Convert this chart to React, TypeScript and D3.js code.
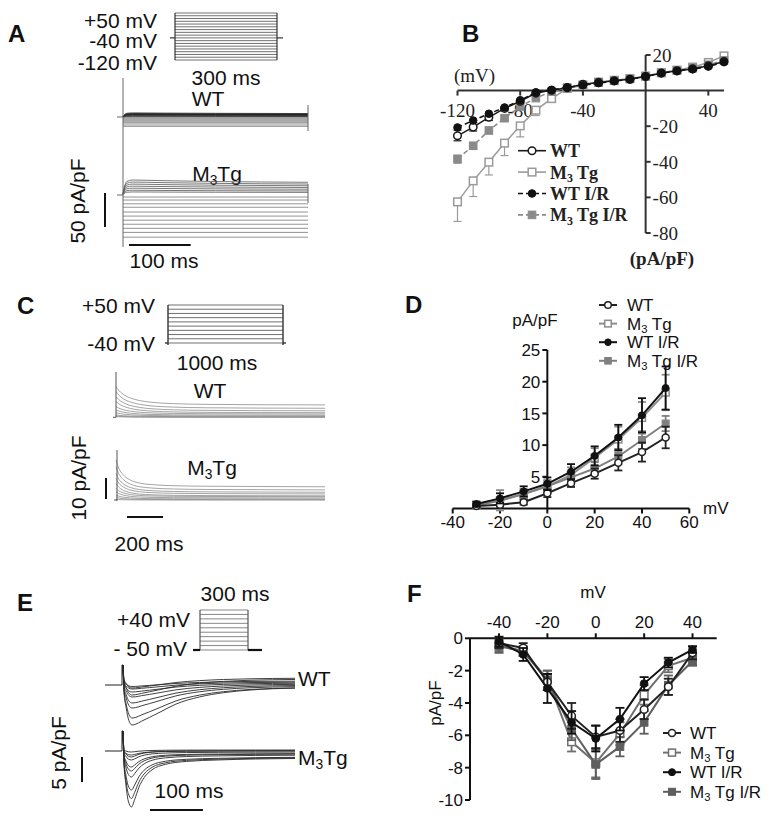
import React from "react";
import * as d3 from "d3";

const SANS = "'Liberation Sans', Arial, Helvetica, sans-serif";
const SERIF = "'Liberation Serif', 'Times New Roman', Times, serif";

// ---------- Panel A : step protocol levels & representative steady currents (pA/pF) ----------
const aSteps = [-120, -110, -100, -90, -80, -70, -60, -50, -40, -30, -20, -10, 0, 10, 20, 30, 40, 50];
const aWTLevels = [-14, -12, -10, -8, -6.5, -5, -3.5, -2, -1, 0, 1, 2, 3, 3.5, 4, 4.5, 5, 6];
const aTgLevels = [-62, -55, -49, -43, -37, -31, -25, -18, -13, -7.4, -3, 4.5, 7, 10, 13, 16, 19, 22];
const aOnT = [0, 2, 6, 15, 60, 150, 300];
const aOnF = [0.1, 0.5, 0.9, 1.0, 0.96, 0.9, 0.85];

// ---------- Panel B : I-V -120..+50 mV ----------
const bVolt = [-120, -110, -100, -90, -80, -70, -60, -50, -40, -30, -20, -10, 0, 10, 20, 30, 40, 50];
const bWT = [-25.4, -20.5, -15.0, -10.0, -6.0, -1.4, 0.2, 1.6, 3.6, 4.6, 5.5, 6.4, 7.9, 9.8, 11.1, 12.2, 13.9, 16.3];
const bWTErr = [2.8, 2.2, 1.8, 1.4, 1.0, 0.8, 0.5, 0.5, 0.5, 0.5, 0.5, 0.5, 0.5, 0.5, 0.5, 0.5, 0.6, 0.8];
const bTg = [-62.5, -50.7, -40.2, -29.5, -19.8, -11.0, -4.5, 1.2, 3.0, 4.8, 5.8, 6.8, 8.2, 10.0, 11.5, 13.2, 15.8, 19.5];
const bTgErr = [11.0, 8.8, 7.2, 7.0, 6.2, 3.0, 1.5, 1.0, 0.8, 0.6, 0.5, 0.5, 0.5, 0.5, 0.6, 0.6, 0.8, 0.9];
const bWTIR = [-20.7, -16.8, -13.0, -9.5, -5.4, -1.0, 0.4, 1.8, 3.0, 4.2, 5.3, 6.3, 8.0, 9.8, 11.0, 12.0, 13.5, 16.0];
const bWTIRErr = [1.5, 1.2, 1.0, 1.0, 0.8, 0.6, 0.5, 0.5, 0.5, 0.5, 0.5, 0.5, 0.5, 0.5, 0.5, 0.5, 0.6, 0.7];
const bTgIR = [-38.3, -31.0, -22.4, -15.5, -8.9, -4.2, -0.5, 1.7, 3.2, 4.5, 5.5, 6.5, 8.0, 10.0, 11.3, 12.6, 14.5, 17.0];
const bTgIRErr = [2.5, 1.8, 1.5, 1.2, 1.0, 0.8, 0.6, 0.5, 0.5, 0.5, 0.5, 0.5, 0.5, 0.5, 0.5, 0.5, 0.6, 0.7];
const bXTicks = [-120, -80, -40, 40];
const bYTicks = [20, -20, -40, -60, -80];

// ---------- Panel C : outward K+ traces ----------
const cSteps = [-40, -30, -20, -10, 0, 10, 20, 30, 40, 50];
const cWTPeak = [0.3, 0.6, 1.1, 2.2, 3.5, 5.1, 7.5, 9.8, 12.2, 14.6];
const cWTSteady = [0, 0.1, 0.3, 0.6, 1.0, 1.6, 2.2, 3.1, 4.3, 5.9];
const cTgPeak = [0.3, 1.3, 2.4, 4.0, 5.6, 7.9, 10.3, 12.7, 15.9, 19.0];
const cTgSteady = [0, 0.15, 0.5, 1.0, 1.6, 2.0, 2.9, 3.7, 4.8, 6.3];
const cDecayT = [0, 15, 40, 80, 130, 200, 320, 500, 800, 1160];
const cWTDecay = [1, 0.8, 0.58, 0.38, 0.24, 0.14, 0.07, 0.03, 0.01, 0];
const cTgDecay = [1, 0.7, 0.45, 0.25, 0.14, 0.08, 0.04, 0.02, 0.01, 0];

// ---------- Panel D : I-V ----------
const dVolt = [-30, -20, -10, 0, 10, 20, 30, 40, 50];
const dWT = [0.4, 0.6, 1.0, 2.4, 4.0, 5.5, 7.2, 8.9, 11.2];
const dWTErr = [0.3, 0.3, 0.4, 0.6, 0.6, 0.8, 1.2, 1.5, 1.7];
const dTg = [0.5, 1.3, 2.3, 3.5, 5.3, 8.0, 10.9, 14.3, 18.3];
const dTgErr = [0.3, 1.6, 0.8, 1.0, 1.2, 1.5, 2.0, 2.5, 2.8];
const dWTIR = [0.7, 1.6, 2.7, 3.9, 5.8, 8.3, 11.2, 14.7, 19.0];
const dWTIRErr = [0.4, 0.8, 0.8, 1.0, 1.2, 1.5, 2.0, 2.7, 3.4];
const dTgIR = [0.5, 1.2, 2.3, 3.5, 4.9, 6.3, 8.2, 10.8, 13.4];
const dTgIRErr = [0.3, 0.5, 0.6, 0.8, 0.8, 1.0, 1.2, 1.4, 1.2];
const dXTicks = [-40, -20, 0, 20, 40, 60];
const dYTicks = [5, 10, 15, 20, 25];

// ---------- Panel E : inward Ca2+ traces ----------
const eSteps = [-50, -40, -30, -20, -10, 0, 10, 20, 30, 40];
const eWTPeak = [-0.3, -0.8, -1.4, -2.4, -3.6, -4.6, -6.6, -8.0, -2.0, -0.6];
const eWTSteady = [0.8, 0.6, 0.4, 0.2, 0, -0.2, -0.4, -0.4, 1.2, 1.4];
const eTgPeak = [-0.2, -0.8, -1.8, -3.2, -5.2, -7.8, -11.2, -9.5, -4.0, -1.2];
const eTgSteady = [0.2, 0, -0.2, -0.5, -0.8, -1.2, -1.4, -1.3, -0.6, 0.1];
const eWTShapeT = [2, 6, 11, 17, 24, 35, 50, 70, 100, 145, 190, 240, 325];
const eWTShapeF = [0.15, 0.55, 0.88, 1.0, 0.98, 0.9, 0.8, 0.66, 0.45, 0.26, 0.15, 0.08, 0.03];
const eTgShapeT = [2, 5, 10, 16, 22, 30, 40, 55, 80, 120, 180, 250, 325];
const eTgShapeF = [0.15, 0.5, 0.88, 1.0, 0.85, 0.6, 0.4, 0.24, 0.13, 0.07, 0.04, 0.02, 0.01];
const eSpike = 4;

// ---------- Panel F : I-V ----------
const fVolt = [-40, -30, -20, -10, 0, 10, 20, 30, 40];
const fWT = [-0.3, -0.6, -2.7, -4.8, -6.1, -5.7, -4.4, -3.0, -0.9];
const fWTErr = [0.3, 0.3, 0.5, 0.8, 0.7, 0.7, 0.6, 0.5, 0.4];
const fTg = [-0.4, -0.8, -2.5, -6.4, -7.7, -5.9, -3.5, -1.7, -1.2];
const fTgErr = [0.4, 0.3, 0.5, 0.6, 0.9, 0.7, 0.6, 0.4, 0.4];
const fWTIR = [-0.2, -1.0, -3.1, -5.2, -6.2, -5.0, -2.8, -1.5, -0.7];
const fWTIRErr = [0.3, 0.4, 0.9, 0.7, 0.8, 0.7, 0.4, 0.3, 0.2];
const fTgIR = [-0.5, -0.8, -2.6, -5.6, -7.8, -6.7, -5.2, -2.9, -1.4];
const fTgIRErr = [0.4, 0.3, 0.6, 0.7, 0.9, 0.6, 0.7, 0.6, 0.3];
const fXTicks = [-40, -20, 0, 20, 40];
const fYTicks = [0, -2, -4, -6, -8, -10];

const groupNames = ["WT", "M3 Tg", "WT I/R", "M3 Tg I/R"];

type Pt = [number, number];
const lin = d3.line<Pt>();
const mono = d3.line<Pt>().curve(d3.curveMonotoneX);

function nameSpans(name: string, size: number) {
  if (!name.startsWith("M3")) return name;
  const rest = name.slice(2);
  return [
    <tspan key="m">M</tspan>,
    <tspan key="s" fontSize={size * 0.66} dy={size * 0.2}>3</tspan>,
    <tspan key="r" dy={-size * 0.2} style={{ whiteSpace: "pre" }}>{rest}</tspan>,
  ];
}

function Txt(props: any) {
  const { x, y, size, anchor = "start", family = SANS, weight = "normal", children, rotate, fill = "#111" } = props;
  const by = y + 0.36 * size;
  if (rotate) {
    return (
      <text transform={`translate(${x},${y}) rotate(-90)`} y={0.36 * size} textAnchor="middle" fontSize={size}
        fontFamily={family} fontWeight={weight} fill={fill} style={{ whiteSpace: "pre" }}>{children}</text>
    );
  }
  return (
    <text x={x} y={by} textAnchor={anchor} fontSize={size} fontFamily={family} fontWeight={weight} fill={fill}
      style={{ whiteSpace: "pre" }}>{children}</text>
  );
}

function Marker({ kind, x, y, color, r, sw = 1.5 }: any) {
  if (kind === "oc") return <circle cx={x} cy={y} r={r} fill="#fff" stroke={color} strokeWidth={sw} />;
  if (kind === "fc") return <circle cx={x} cy={y} r={r} fill={color} stroke={color} strokeWidth={1} />;
  if (kind === "os") return <rect x={x - r} y={y - r} width={2 * r} height={2 * r} fill="#fff" stroke={color} strokeWidth={sw} />;
  return <rect x={x - r} y={y - r} width={2 * r} height={2 * r} fill={color} stroke={color} strokeWidth={1} />;
}

function IVSeries({ volts, vals, errs, xs, ys, kind, color, dash, r, lw, oneSided, cap }: any) {
  const pts: Pt[] = volts.map((v: number, i: number) => [xs(v), ys(vals[i])]);
  return (
    <g>
      {volts.map((v: number, i: number) => {
        const m = vals[i], e = errs[i];
        const x = xs(v);
        if (oneSided) {
          const end = m < 0 ? m - e : m + e;
          return (
            <g key={i} stroke={color} strokeWidth={1.2}>
              <line x1={x} x2={x} y1={ys(m)} y2={ys(end)} />
              <line x1={x - cap} x2={x + cap} y1={ys(end)} y2={ys(end)} />
            </g>
          );
        }
        return (
          <g key={i} stroke={color} strokeWidth={1.8}>
            <line x1={x} x2={x} y1={ys(m - e)} y2={ys(m + e)} />
            <line x1={x - cap} x2={x + cap} y1={ys(m + e)} y2={ys(m + e)} />
            <line x1={x - cap} x2={x + cap} y1={ys(m - e)} y2={ys(m - e)} />
          </g>
        );
      })}
      <path d={lin(pts) || ""} fill="none" stroke={color} strokeWidth={lw} strokeDasharray={dash || undefined} />
      {pts.map((p, i) => <Marker key={i} kind={kind} x={p[0]} y={p[1]} color={color} r={r} />)}
    </g>
  );
}

export default function App() {
  // ================= Panel A =================
  const aProt = d3.scaleLinear().domain([-120, 50]).range([60, 13]);
  const aT = d3.scaleLinear().domain([0, 300]).range([123, 308]);
  const aYwt = d3.scaleLinear().domain([0, 50]).range([117, 83]);
  const aYtg = d3.scaleLinear().domain([0, 50]).range([195, 161]);
  const aTrace = (lv: number, ys: any) => {
    const pts: Pt[] = lv > 0
      ? aOnT.map((t, i) => [aT(t), ys(lv * aOnF[i])] as Pt)
      : [[aT(0), ys(lv)], [aT(300), ys(lv)]];
    return mono(pts) || "";
  };

  const panelA = (
    <g>
      <Txt x={8} y={33} size={24} weight="bold">A</Txt>
      <Txt x={157} y={20} size={21} anchor="end">+50 mV</Txt>
      <Txt x={157} y={40} size={21} anchor="end">-40 mV</Txt>
      <Txt x={157} y={62} size={21} anchor="end">-120 mV</Txt>
      <g stroke="#333" strokeWidth={0.7}>
        {aSteps.map((v) => <line key={v} x1={175} x2={277} y1={aProt(v)} y2={aProt(v)} />)}
        <line x1={175} x2={175} y1={aProt(50)} y2={aProt(-120)} strokeWidth={1.2} />
        <line x1={277} x2={277} y1={aProt(50)} y2={aProt(-120)} strokeWidth={1.2} />
        <line x1={170} x2={175} y1={aProt(-40)} y2={aProt(-40)} strokeWidth={1.2} />
        <line x1={277} x2={283} y1={aProt(-40)} y2={aProt(-40)} strokeWidth={1.2} />
      </g>
      <Txt x={226} y={77} size={21} anchor="middle">300 ms</Txt>
      <Txt x={208} y={98} size={21} anchor="middle">WT</Txt>
      <Txt x={217} y={173} size={21} anchor="middle">{nameSpans("M3Tg", 21)}</Txt>
      <g fill="none" strokeWidth={0.8}>
        {aWTLevels.map((lv, i) => <path key={"w" + i} d={aTrace(lv, aYwt)} stroke={lv > 0 ? "#222" : "#8a8a8a"} />)}
        {aTgLevels.map((lv, i) => <path key={"t" + i} d={aTrace(lv, aYtg)} stroke={lv > 0 ? "#555" : "#777"} />)}
      </g>
      <g stroke="#666" strokeWidth={1}>
        <line x1={123} x2={123} y1={78} y2={247} />
        <line x1={308} x2={308} y1={105} y2={131} />
        <line x1={308} x2={308} y1={184} y2={203} />
        <line x1={117} x2={123} y1={aYwt(0)} y2={aYwt(0)} />
        <line x1={117} x2={123} y1={aYtg(0)} y2={aYtg(0)} />
      </g>
      <line x1={105} x2={105} y1={aYtg(0) - 2} y2={aYtg(0) - 2 + (aYtg(0) - aYtg(50))} stroke="#111" strokeWidth={2} />
      <Txt x={77} y={201} size={21} rotate>50 pA/pF</Txt>
      <line x1={aT(0) + 6} x2={aT(100) + 6} y1={245} y2={245} stroke="#111" strokeWidth={2} />
      <Txt x={164} y={260} size={21} anchor="middle">100 ms</Txt>
    </g>
  );

  // ================= Panel B =================
  const bx = d3.scaleLinear().domain([-120, 50]).range([457.5, 724]);
  const by = d3.scaleLinear().domain([-80, 20]).range([233, 55]);
  const bSeries = [
    { vals: bTg, errs: bTgErr, kind: "os", color: "#9a9a9a", dash: null },
    { vals: bTgIR, errs: bTgIRErr, kind: "fs", color: "#8a8a8a", dash: "5,3" },
    { vals: bWT, errs: bWTErr, kind: "oc", color: "#1a1a1a", dash: null },
    { vals: bWTIR, errs: bWTIRErr, kind: "fc", color: "#111", dash: "5,3" },
  ];
  const bLegend = [
    { kind: "oc", color: "#1a1a1a", dash: null },
    { kind: "os", color: "#9a9a9a", dash: null },
    { kind: "fc", color: "#111", dash: "5,3" },
    { kind: "fs", color: "#8a8a8a", dash: "5,3" },
  ];
  const panelB = (
    <g>
      <Txt x={462} y={33} size={24} weight="bold">B</Txt>
      <g stroke="#333" strokeWidth={2}>
        <line x1={bx(-120)} x2={bx(50)} y1={by(0)} y2={by(0)} />
        <line x1={bx(0)} x2={bx(0)} y1={by(20)} y2={by(-80)} />
        {bXTicks.map((t) => <line key={t} x1={bx(t)} x2={bx(t)} y1={by(0)} y2={by(0) + 5} />)}
        {bYTicks.map((t) => <line key={t} x1={bx(0)} x2={bx(0) + 5} y1={by(t)} y2={by(t)} />)}
      </g>
      {bXTicks.map((t) => <Txt key={t} x={bx(t)} y={110} size={19} family={SERIF} anchor="middle" fill="#222">{String(t)}</Txt>)}
      {bYTicks.map((t) => <Txt key={t} x={bx(0) + 7} y={by(t)} size={19} family={SERIF} fill="#222">{String(t)}</Txt>)}
      <Txt x={454} y={75} size={19} family={SERIF} fill="#222">(mV)</Txt>
      <Txt x={662} y={258} size={19} family={SERIF} weight="bold" anchor="middle" fill="#222">(pA/pF)</Txt>
      {bSeries.map((s, i) => (
        <IVSeries key={i} volts={bVolt} vals={s.vals} errs={s.errs} xs={bx} ys={by} kind={s.kind} color={s.color}
          dash={s.dash} r={3.8} lw={1.5} oneSided cap={4} />
      ))}
      {groupNames.map((n, i) => {
        const y = 150.7 + i * 21.4;
        const L = bLegend[i];
        return (
          <g key={n}>
            <line x1={518} x2={546} y1={y} y2={y} stroke={L.color} strokeWidth={1.6} strokeDasharray={L.dash || undefined} />
            <Marker kind={L.kind} x={532} y={y} color={L.color} r={3.8} />
            <Txt x={550} y={y} size={18} family={SERIF} weight="bold" fill="#222">{nameSpans(n, 18)}</Txt>
          </g>
        );
      })}
    </g>
  );

  // ================= Panel C =================
  const cProt = d3.scaleLinear().domain([-40, 50]).range([343, 305]);
  const cT = d3.scaleLinear().domain([0, 1160]).range([116, 325]);
  const cYwt = d3.scaleLinear().domain([0, 10]).range([417.3, 396.3]);
  const cYtg = d3.scaleLinear().domain([0, 10]).range([500, 479]);
  const cTrace = (pk: number, ss: number, dec: number[], ys: any) =>
    mono(cDecayT.map((t, i) => [cT(t), ys(ss + (pk - ss) * dec[i])] as Pt)) || "";
  const panelC = (
    <g>
      <Txt x={17} y={305} size={24} weight="bold">C</Txt>
      <Txt x={155} y={305} size={21} anchor="end">+50 mV</Txt>
      <Txt x={155} y={343} size={21} anchor="end">-40 mV</Txt>
      <g stroke="#333" strokeWidth={0.7}>
        {cSteps.map((v) => <line key={v} x1={168} x2={283} y1={cProt(v)} y2={cProt(v)} />)}
        <line x1={168} x2={168} y1={cProt(50)} y2={cProt(-40) + 2} strokeWidth={1.4} />
        <line x1={283} x2={283} y1={cProt(50)} y2={cProt(-40) + 2} strokeWidth={1.4} />
        <line x1={165} x2={168} y1={cProt(-40)} y2={cProt(-40)} strokeWidth={1.4} />
        <line x1={283} x2={286} y1={cProt(-40)} y2={cProt(-40)} strokeWidth={1.4} />
      </g>
      <Txt x={217} y={362} size={21} anchor="middle">1000 ms</Txt>
      <Txt x={210} y={390} size={21} anchor="middle">WT</Txt>
      <Txt x={212} y={467} size={21} anchor="middle">{nameSpans("M3Tg", 21)}</Txt>
      <g fill="none" stroke="#8d8d8d" strokeWidth={0.8}>
        {cWTPeak.map((p, i) => <path key={"w" + i} d={cTrace(p, cWTSteady[i], cWTDecay, cYwt)} />)}
        {cTgPeak.map((p, i) => <path key={"t" + i} d={cTrace(p, cTgSteady[i], cTgDecay, cYtg)} />)}
      </g>
      <g stroke="#555" strokeWidth={1}>
        <line x1={116} x2={116} y1={cYwt(0)} y2={372} />
        <line x1={117} x2={117} y1={cYtg(0) + 1} y2={450} />
        <line x1={113} x2={116} y1={cYwt(0)} y2={cYwt(0)} />
        <line x1={114} x2={117} y1={cYtg(0)} y2={cYtg(0)} />
      </g>
      <line x1={106} x2={106} y1={cYtg(0) - 1} y2={cYtg(10) - 1} stroke="#111" strokeWidth={2} />
      <Txt x={78} y={478} size={21} rotate>10 pA/pF</Txt>
      <line x1={127} x2={127 + (cT(200) - cT(0))} y1={517} y2={517} stroke="#111" strokeWidth={2} />
      <Txt x={149} y={543} size={21} anchor="middle">200 ms</Txt>
    </g>
  );

  // ================= Panel D =================
  const dx = d3.scaleLinear().domain([-40, 60]).range([452.7, 689.3]);
  const dy = d3.scaleLinear().domain([0, 25]).range([508.5, 350]);
  const dSeries = [
    { vals: dTg, errs: dTgErr, kind: "os", color: "#8c8c8c" },
    { vals: dTgIR, errs: dTgIRErr, kind: "fs", color: "#808080" },
    { vals: dWT, errs: dWTErr, kind: "oc", color: "#222" },
    { vals: dWTIR, errs: dWTIRErr, kind: "fc", color: "#111" },
  ];
  const dLegend = [
    { kind: "oc", color: "#222" },
    { kind: "os", color: "#8c8c8c" },
    { kind: "fc", color: "#111" },
    { kind: "fs", color: "#808080" },
  ];
  const panelD = (
    <g>
      <Txt x={405} y={304} size={24} weight="bold">D</Txt>
      <Txt x={535} y={320} size={17} anchor="middle">pA/pF</Txt>
      <Txt x={703} y={508} size={17}>mV</Txt>
      <g stroke="#111" strokeWidth={2}>
        <line x1={dx(-40)} x2={dx(60)} y1={dy(0)} y2={dy(0)} />
        <line x1={dx(0)} x2={dx(0)} y1={dy(0)} y2={dy(25)} />
        {dXTicks.map((t) => <line key={t} x1={dx(t)} x2={dx(t)} y1={dy(0)} y2={dy(0) + 5} />)}
        {dYTicks.map((t) => <line key={t} x1={dx(0) - 5} x2={dx(0)} y1={dy(t)} y2={dy(t)} />)}
      </g>
      {dXTicks.map((t) => <Txt key={t} x={dx(t)} y={522} size={17} anchor="middle">{String(t)}</Txt>)}
      {dYTicks.map((t) => <Txt key={t} x={dx(0) - 7} y={dy(t)} size={17} anchor="end">{String(t)}</Txt>)}
      {dSeries.map((s, i) => (
        <IVSeries key={i} volts={dVolt} vals={s.vals} errs={s.errs} xs={dx} ys={dy} kind={s.kind} color={s.color}
          r={3.5} lw={2} cap={4} />
      ))}
      {groupNames.map((n, i) => {
        const y = 305 + i * 18.6;
        const L = dLegend[i];
        return (
          <g key={n}>
            <line x1={599} x2={617} y1={y} y2={y} stroke={L.color} strokeWidth={2} />
            <Marker kind={L.kind} x={608} y={y} color={L.color} r={3.3} />
            <Txt x={627} y={y} size={17}>{nameSpans(n, 17)}</Txt>
          </g>
        );
      })}
    </g>
  );

  // ================= Panel E =================
  const eProt = d3.scaleLinear().domain([-50, 40]).range([650, 610]);
  const eT = d3.scaleLinear().domain([0, 325]).range([123, 295]);
  const eYwt = d3.scaleLinear().domain([0, 5]).range([685, 660]);
  const eYtg = d3.scaleLinear().domain([0, 5]).range([751, 726]);
  const eTrace = (pk: number, ss: number, T: number[], F: number[], ys: any) => {
    const pts: Pt[] = [[eT(0), ys(eSpike)] as Pt].concat(T.map((t, i) => [eT(t), ys(pk * F[i] + ss * (1 - F[i]))] as Pt));
    return mono(pts) || "";
  };
  const panelE = (
    <g>
      <Txt x={17} y={602} size={24} weight="bold">E</Txt>
      <Txt x={235} y={593} size={21} anchor="middle">300 ms</Txt>
      <Txt x={190} y={619} size={21} anchor="end">+40 mV</Txt>
      <Txt x={187} y={648} size={21} anchor="end">- 50 mV</Txt>
      <g stroke="#555" strokeWidth={0.7}>
        {eSteps.map((v) => <line key={v} x1={200} x2={248} y1={eProt(v)} y2={eProt(v)} />)}
        <line x1={200} x2={200} y1={eProt(40)} y2={eProt(-50)} strokeWidth={1.2} />
        <line x1={248} x2={248} y1={eProt(40)} y2={eProt(-50)} strokeWidth={1.2} />
      </g>
      <g stroke="#111" strokeWidth={2.2}>
        <line x1={193} x2={200} y1={eProt(-50)} y2={eProt(-50)} />
        <line x1={248} x2={262} y1={eProt(-50)} y2={eProt(-50)} />
      </g>
      <g fill="none" stroke="#2a2a2a" strokeWidth={0.9}>
        {eWTPeak.map((p, i) => <path key={"w" + i} d={eTrace(p, eWTSteady[i], eWTShapeT, eWTShapeF, eYwt)} />)}
        {eTgPeak.map((p, i) => <path key={"t" + i} d={eTrace(p, eTgSteady[i], eTgShapeT, eTgShapeF, eYtg)} />)}
      </g>
      <g stroke="#222" strokeWidth={1}>
        <path d={lin([[105, eYwt(0)], [122, eYwt(0)], [122, eYwt(eSpike)], [123, eYwt(eSpike)]]) || ""} fill="none" />
        <path d={lin([[105, eYtg(0)], [122, eYtg(0)], [122, eYtg(eSpike)], [123, eYtg(eSpike)]]) || ""} fill="none" />
      </g>
      <Txt x={298} y={678} size={21}>WT</Txt>
      <Txt x={298} y={757} size={21}>{nameSpans("M3Tg", 21)}</Txt>
      <line x1={82} x2={82} y1={757} y2={757 + (eYtg(0) - eYtg(5))} stroke="#111" strokeWidth={2} />
      <Txt x={58} y={753} size={21} rotate>5 pA/pF</Txt>
      <line x1={150} x2={150 + (eT(100) - eT(0))} y1={810} y2={810} stroke="#111" strokeWidth={2} />
      <Txt x={189} y={790} size={21} anchor="middle">100 ms</Txt>
    </g>
  );

  // ================= Panel F =================
  const fx = d3.scaleLinear().domain([-52, 50]).range([470, 716.7]);
  const fy = d3.scaleLinear().domain([-10, 0]).range([800, 638.3]);
  const fSeries = [
    { vals: fTg, errs: fTgErr, kind: "os", color: "#707070" },
    { vals: fTgIR, errs: fTgIRErr, kind: "fs", color: "#5e5e5e" },
    { vals: fWT, errs: fWTErr, kind: "oc", color: "#222" },
    { vals: fWTIR, errs: fWTIRErr, kind: "fc", color: "#111" },
  ];
  const fLegend = [
    { kind: "oc", color: "#222" },
    { kind: "os", color: "#707070" },
    { kind: "fc", color: "#111" },
    { kind: "fs", color: "#5e5e5e" },
  ];
  const panelF = (
    <g>
      <Txt x={407} y={593} size={24} weight="bold">F</Txt>
      <Txt x={593} y={592} size={17} anchor="middle">mV</Txt>
      <Txt x={435} y={703} size={17} rotate>pA/pF</Txt>
      <g stroke="#111" strokeWidth={2}>
        <line x1={fx(-52)} x2={fx(50)} y1={fy(0)} y2={fy(0)} />
        <line x1={fx(-52)} x2={fx(-52)} y1={fy(0)} y2={fy(-10)} />
        {fXTicks.map((t) => <line key={t} x1={fx(t)} x2={fx(t)} y1={fy(0)} y2={fy(0) - 5} />)}
        {fYTicks.map((t) => <line key={t} x1={fx(-52) - 5} x2={fx(-52)} y1={fy(t)} y2={fy(t)} />)}
      </g>
      {fXTicks.map((t) => <Txt key={t} x={fx(t)} y={622} size={17} anchor="middle">{String(t)}</Txt>)}
      {fYTicks.map((t) => <Txt key={t} x={fx(-52) - 7} y={fy(t)} size={17} anchor="end">{String(t)}</Txt>)}
      {fSeries.map((s, i) => (
        <IVSeries key={i} volts={fVolt} vals={s.vals} errs={s.errs} xs={fx} ys={fy} kind={s.kind} color={s.color}
          r={3.8} lw={2} cap={4.5} />
      ))}
      {groupNames.map((n, i) => {
        const y = 733 + i * 19.6;
        const L = fLegend[i];
        return (
          <g key={n}>
            <line x1={663} x2={681} y1={y} y2={y} stroke={L.color} strokeWidth={2} />
            <Marker kind={L.kind} x={672} y={y} color={L.color} r={3.5} />
            <Txt x={690} y={y} size={17}>{nameSpans(n, 17)}</Txt>
          </g>
        );
      })}
    </g>
  );

  return (
    <svg width={775} height={827} viewBox="0 0 775 827"
      style={{ position: "absolute", left: 0, top: 0, display: "block", background: "#fff" }}>
      <rect width={775} height={827} fill="#fff" />
      {panelA}
      {panelB}
      {panelC}
      {panelD}
      {panelE}
      {panelF}
    </svg>
  );
}
